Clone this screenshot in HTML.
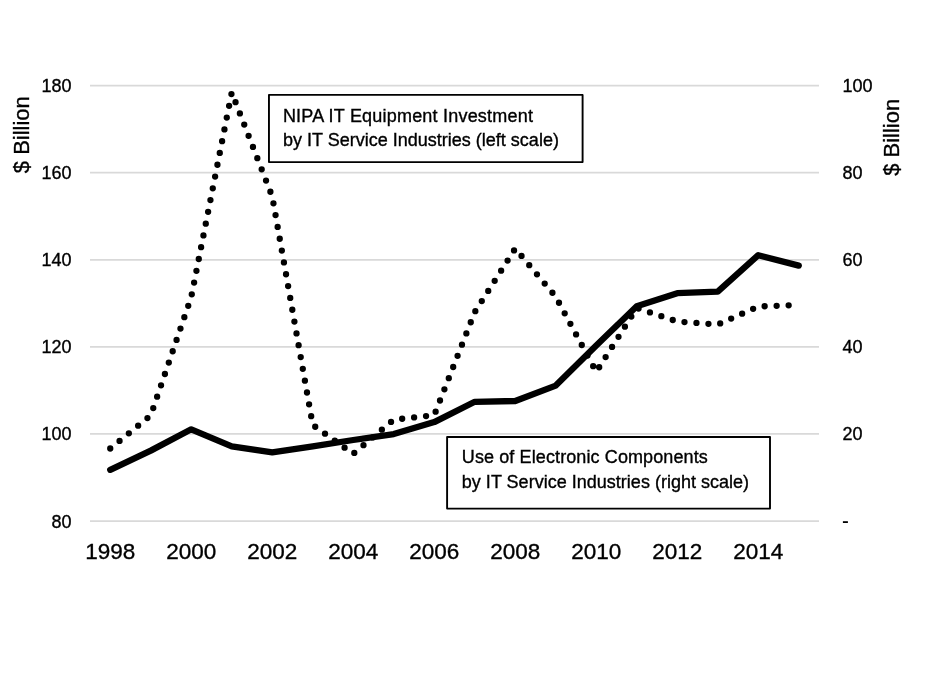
<!DOCTYPE html>
<html><head><meta charset="utf-8"><style>
html,body{margin:0;padding:0;background:#fff;}
svg{display:block;will-change:transform;}
text{font-family:"Liberation Sans",sans-serif;fill:#000;stroke:#000;stroke-width:0.35px;}
</style></head><body>
<svg width="936" height="679" viewBox="0 0 936 679">
<g stroke="#d9d9d9" stroke-width="1.8">
<line x1="90" x2="819" y1="85.6" y2="85.6" />
<line x1="90" x2="819" y1="172.7" y2="172.7" />
<line x1="90" x2="819" y1="259.85" y2="259.85" />
<line x1="90" x2="819" y1="346.9" y2="346.9" />
<line x1="90" x2="819" y1="433.9" y2="433.9" />
<line x1="90" x2="819" y1="521.15" y2="521.15" />
</g>
<g font-size="18">
<text x="71.5" y="92.05" text-anchor="end">180</text>
<text x="71.5" y="179.15" text-anchor="end">160</text>
<text x="71.5" y="266.30" text-anchor="end">140</text>
<text x="71.5" y="353.35" text-anchor="end">120</text>
<text x="71.5" y="440.35" text-anchor="end">100</text>
<text x="71.5" y="527.60" text-anchor="end">80</text>
<text x="842.5" y="92.05">100</text>
<text x="842.5" y="179.15">80</text>
<text x="842.5" y="266.30">60</text>
<text x="842.5" y="353.35">40</text>
<text x="842.5" y="440.35">20</text>
</g>
<rect x="842.9" y="521.2" width="5" height="1.8" fill="#000"/>
<g font-size="22.5">
<text x="110.25" y="558.9" text-anchor="middle">1998</text>
<text x="191.25" y="558.9" text-anchor="middle">2000</text>
<text x="272.25" y="558.9" text-anchor="middle">2002</text>
<text x="353.25" y="558.9" text-anchor="middle">2004</text>
<text x="434.25" y="558.9" text-anchor="middle">2006</text>
<text x="515.25" y="558.9" text-anchor="middle">2008</text>
<text x="596.25" y="558.9" text-anchor="middle">2010</text>
<text x="677.25" y="558.9" text-anchor="middle">2012</text>
<text x="758.25" y="558.9" text-anchor="middle">2014</text>
</g>
<text font-size="22" transform="translate(28.5,134.7) rotate(-90)" text-anchor="middle">$ Billion</text>
<text font-size="22" transform="translate(898.5,137.35) rotate(-90)" text-anchor="middle">$ Billion</text>
<polyline points="110.25,448.5 150.75,415.4 191.25,297.0 231.75,92.5 272.25,196.5 312.75,425.0 353.25,453.8 393.75,419.7 434.25,415.2 474.75,312.1 515.25,248.5 555.75,296.7 596.25,371.9 636.75,308.0 677.25,321.5 717.75,324.5 758.25,306.5 798.75,305.0" fill="none" stroke="#000" stroke-width="6.3" stroke-linecap="round" stroke-linejoin="round" stroke-dasharray="0 12.01"/>
<polyline points="110.25,469.8 150.75,450.6 191.25,429.3 231.75,446.3 272.25,452.4 312.75,446.4 353.25,440.0 393.75,434.1 434.25,422.1 474.75,401.8 515.25,401.0 555.75,385.6 596.25,345.5 636.75,306.2 677.25,293.2 717.75,291.7 758.25,255.2 798.75,265.6" fill="none" stroke="#000" stroke-width="6.3" stroke-linecap="round" stroke-linejoin="round"/>
<rect x="268.95" y="94.9" width="313.65" height="67.2" fill="#fff" stroke="#000" stroke-width="1.9" stroke-linejoin="round"/>
<g font-size="18">
<text x="282.9" y="121.6" textLength="250.0" lengthAdjust="spacing">NIPA IT Equipment Investment</text>
<text x="282.9" y="145.9" textLength="276.0" lengthAdjust="spacing">by IT Service Industries (left scale)</text>
</g>
<rect x="447.1" y="437.0" width="322.9" height="71.6" fill="#fff" stroke="#000" stroke-width="1.9" stroke-linejoin="round"/>
<g font-size="18">
<text x="461.8" y="463.2" textLength="246.0" lengthAdjust="spacing">Use of Electronic Components</text>
<text x="461.8" y="487.6" textLength="287.3" lengthAdjust="spacing">by IT Service Industries (right scale)</text>
</g>
</svg>
</body></html>
